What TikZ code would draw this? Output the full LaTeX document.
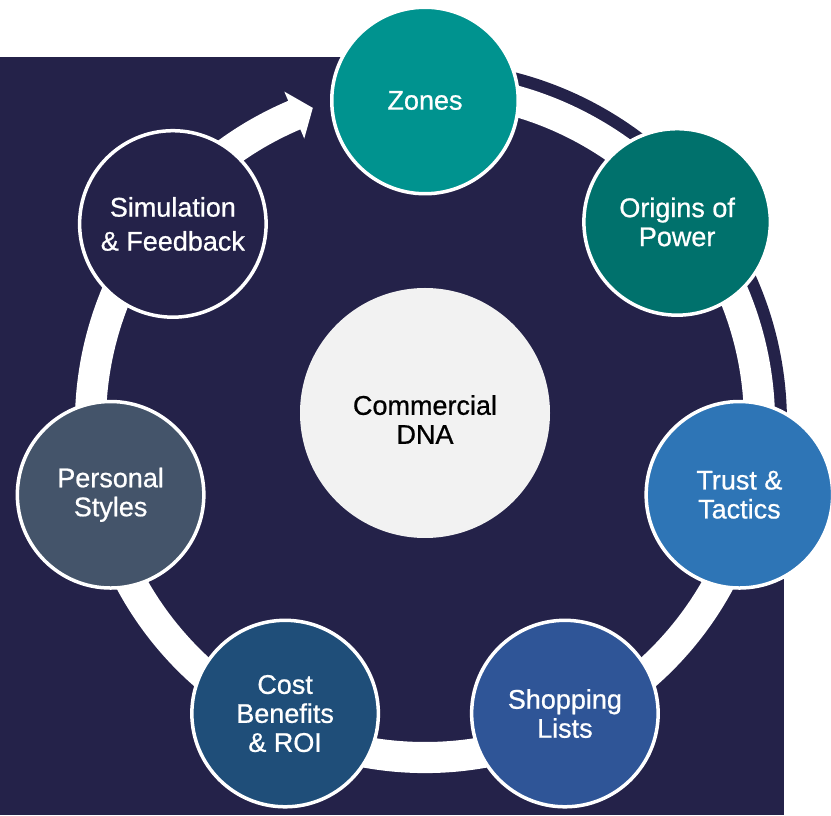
\documentclass[tikz,border=0pt]{standalone}
\usepackage{fontspec}
\setmainfont{Liberation Sans}
\newfontfamily\lblfont{Liberation Sans}[BoldFont={*}, BoldFeatures={FakeBold=0.7}]
\usetikzlibrary{calc}
\begin{document}
\definecolor{navy}{HTML}{242249}
\definecolor{zonesc}{HTML}{00938F}
\definecolor{originsc}{HTML}{00716C}
\definecolor{trustc}{HTML}{2E75B6}
\definecolor{shopc}{HTML}{2F5597}
\definecolor{costc}{HTML}{1F4E79}
\definecolor{personalc}{HTML}{44546A}
\definecolor{corec}{HTML}{F2F2F2}
\begin{tikzpicture}[x=1pt,y=1pt,
  labelfont/.style={font=\lblfont\bfseries\fontsize{27}{29}\selectfont},
  stage/.style={circle, draw=white, line width=3.5pt, minimum size=186.5pt,
    inner sep=0pt, text=white, align=center, labelfont},
  corenode/.style={circle, fill=corec, minimum size=250pt, inner sep=0pt},
  coretext/.style={text=black, align=center, inner sep=0pt, labelfont}]
  \useasboundingbox (0,0) rectangle (831,815);
  % dark backdrop with a rounded upper-right corner
  \fill[navy] (0,0) rectangle (425,758);
  \fill[navy] (425,392) circle[radius=362];
  \fill[navy] (425,0) rectangle (784,392);
  % circular arrow running clockwise from the top round to the top again
  \coordinate (ringc) at (425,392);
  \begin{scope}[shift={(ringc)}]
    \fill[white] (113:350) arc[start angle=113, end angle=450, radius=350]
      -- (450:319) arc[start angle=450, end angle=113, radius=319]
      -- (113:309) -- (109.6:334.5) -- (113:360) -- cycle;
  \end{scope}
  % centre
  \node[corenode] (core) at (425,402) {};
  \node[coretext] (coretxt) at ([yshift=-6.5]core.center) {Commercial\\DNA};
  % stages round the ring
  \node[stage, fill=zonesc]    (zones)    at ($(ringc)+(90:322.5)$)      {Zones};
  \node[stage, fill=originsc]  (origins)  at ($(ringc)+(38.57:322.5)$)   {Origins of\\Power};
  \node[stage, fill=trustc]    (trust)    at ($(ringc)+(-12.86:322.5)$)  {Trust \&\\Tactics};
  \node[stage, fill=shopc]     (shop)     at ($(ringc)+(-64.29:322.5)$)  {Shopping\\Lists};
  \node[stage, fill=costc]     (cost)     at ($(ringc)+(-115.71:322.5)$) {Cost\\Benefits\\\& ROI};
  \node[stage, fill=personalc] (personal) at ($(ringc)+(-167.14:322.5)$) {Personal\\Styles};
  \node[stage, fill=navy, font=\lblfont\bfseries\fontsize{27}{34}\selectfont]
                               (sim)      at ($(ringc)+(141.43:322.5)-(0,2)$) {Simulation\\\& Feedback};
\end{tikzpicture}
\end{document}
